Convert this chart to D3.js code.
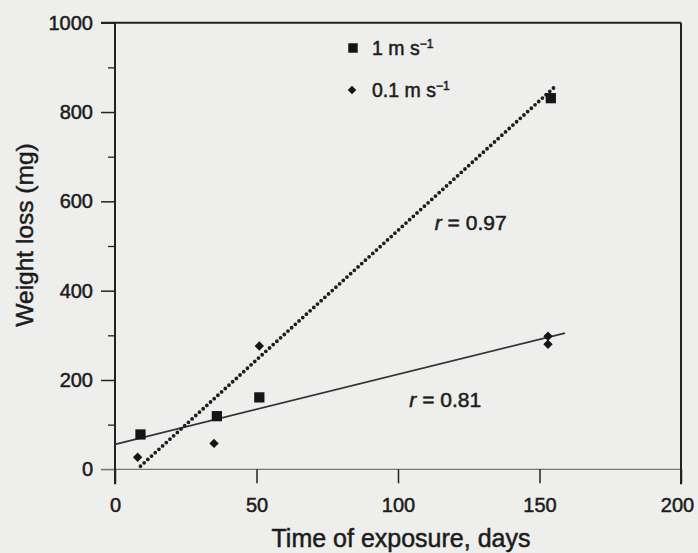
<!DOCTYPE html>
<html>
<head>
<meta charset="utf-8">
<script src="https://cdn.jsdelivr.net/npm/d3@7"></script>
<style>
  html, body { margin: 0; padding: 0; background: #eeeeec; }
  svg { display: block; }
  text { font-family: "Liberation Sans", Arial, sans-serif; fill: #1c1c1c; stroke: #1c1c1c; stroke-width: 0.5px; }
</style>
</head>
<body>
<svg id="chart" width="698" height="553"></svg>
<script>
// ---- data ----
const days1ms = [9, 36, 51, 154];          // squares, 1 m s-1
const loss1ms = [78, 119, 161, 831];
const days01ms = [8, 35, 51, 153, 153];    // diamonds, 0.1 m s-1
const loss01ms = [27, 58, 276, 298, 280];
const fitSolidX = [0, 159];                // r = 0.81
const fitSolidY = [56, 305];
const fitDottedX = [9, 156];               // r = 0.97
const fitDottedY = [7, 860];
const xTicks = [0, 50, 100, 150, 200];
const yTicks = [0, 200, 400, 600, 800, 1000];
const yMinorTicks = [100, 300, 500, 700, 900];
const legendLabels = ["1 m s", "0.1 m s"];
const rLabels = [{ r: "0.97", x: 113, y: 535 }, { r: "0.81", x: 104, y: 140 }];

// ---- layout ----
const svg = d3.select("#chart");
const x = d3.scaleLinear().domain([0, 200]).range([115, 681]);
const y = d3.scaleLinear().domain([0, 1000]).range([469.3, 22.7]);
const ink = "#222";

// y=0 baseline (lighter)
svg.append("line")
  .attr("x1", x(0) - 14).attr("x2", x(200))
  .attr("y1", y(0)).attr("y2", y(0))
  .attr("stroke", "#777").attr("stroke-width", 1.2);

// Y axis
const yAxis = svg.append("g")
  .attr("transform", `translate(${x(0)},0)`)
  .call(d3.axisLeft(y).tickValues(yTicks).tickSize(14).tickPadding(8).tickFormat(d3.format("d")));
yAxis.select(".domain").remove();
yAxis.selectAll(".tick line").attr("stroke", ink).attr("stroke-width", 1.5);
yAxis.selectAll(".tick text").style("font-size", "20px").attr("fill", "#1c1c1c");
yAxis.selectAll(".tick").filter(d => d === 0).select("line").attr("stroke", "#777").attr("stroke-width", 1.2);

const yMinor = svg.append("g")
  .attr("transform", `translate(${x(0)},0)`)
  .call(d3.axisLeft(y).tickValues(yMinorTicks).tickSize(7).tickFormat(""));
yMinor.select(".domain").remove();
yMinor.selectAll(".tick line").attr("stroke", ink).attr("stroke-width", 1.3);

// X axis
const xAxis = svg.append("g")
  .attr("transform", `translate(0,${y(0)})`)
  .call(d3.axisBottom(x).tickValues(xTicks).tickSize(14).tickPadding(15).tickFormat(d3.format("d")));
xAxis.select(".domain").remove();
xAxis.selectAll(".tick line").attr("stroke", ink).attr("stroke-width", 1.5);
xAxis.selectAll(".tick text").style("font-size", "20px").attr("fill", "#1c1c1c")
  .attr("dx", d => d === 200 ? -4 : 0);

// frame: left axis, top, right
svg.append("line").attr("x1", x(0)).attr("x2", x(0)).attr("y1", y(1000)).attr("y2", y(0) + 15)
  .attr("stroke", ink).attr("stroke-width", 2);
svg.append("line").attr("x1", x(0) - 14).attr("x2", x(200)).attr("y1", y(1000)).attr("y2", y(1000))
  .attr("stroke", ink).attr("stroke-width", 2);
svg.append("line").attr("x1", x(200)).attr("x2", x(200)).attr("y1", y(1000)).attr("y2", y(0) + 15)
  .attr("stroke", ink).attr("stroke-width", 2);

// Fit lines
const line = d3.line().x(d => x(d[0])).y(d => y(d[1]));
svg.append("path")
  .attr("d", line(fitSolidX.map((v, i) => [v, fitSolidY[i]])))
  .attr("fill", "none").attr("stroke", "#3a3036").attr("stroke-width", 1.8);
svg.append("path")
  .attr("d", line(fitDottedX.map((v, i) => [v, fitDottedY[i]])))
  .attr("fill", "none").attr("stroke", "#1e1e1e").attr("stroke-width", 3.8)
  .attr("stroke-linecap", "round").attr("stroke-dasharray", "0 5");

// Points
const square = d3.symbol().type(d3.symbolSquare);
const diamond = d3.symbol().type(d3.symbolSquare).size(44);
svg.append("g").selectAll("path")
  .data(days1ms.map((d, i) => [d, loss1ms[i]]))
  .join("path")
  .attr("d", square.size(105)())
  .attr("transform", d => `translate(${x(d[0])},${y(d[1])})`)
  .attr("fill", "#151515");
svg.append("g").selectAll("path")
  .data(days01ms.map((d, i) => [d, loss01ms[i]]))
  .join("path")
  .attr("d", diamond())
  .attr("transform", d => `translate(${x(d[0])},${y(d[1])}) rotate(45)`)
  .attr("fill", "#151515");

// r labels
rLabels.forEach(lb => {
  const t = svg.append("text")
    .attr("x", x(lb.x)).attr("y", y(lb.y))
    .style("font-size", "21px");
  t.append("tspan").style("font-style", "italic").text("r");
  t.append("tspan").text(" = " + lb.r);
});

// Legend
const legend = svg.append("g");
const legY = [48, 90];
legend.append("path").attr("d", d3.symbol().type(d3.symbolSquare).size(90)())
  .attr("transform", `translate(353,${legY[0]})`).attr("fill", "#151515");
legend.append("path").attr("d", d3.symbol().type(d3.symbolSquare).size(36)())
  .attr("transform", `translate(352,${legY[1]}) rotate(45)`).attr("fill", "#151515");
legendLabels.forEach((lab, i) => {
  const t = legend.append("text").attr("x", 372).attr("y", legY[i] + 6.5)
    .style("font-size", "19.5px");
  t.append("tspan").text(lab);
  t.append("tspan").attr("dy", -7).style("font-size", "12px").text("\u22121");
});

// Axis titles
svg.append("text")
  .attr("transform", `translate(33,${(y(0) + y(1000)) / 2 - 11}) rotate(-90)`)
  .attr("text-anchor", "middle").style("font-size", "24.5px")
  .text("Weight loss (mg)");
svg.append("text")
  .attr("x", 401).attr("y", 547)
  .attr("text-anchor", "middle").style("font-size", "25px")
  .text("Time of exposure, days");
</script>
</body>
</html>
